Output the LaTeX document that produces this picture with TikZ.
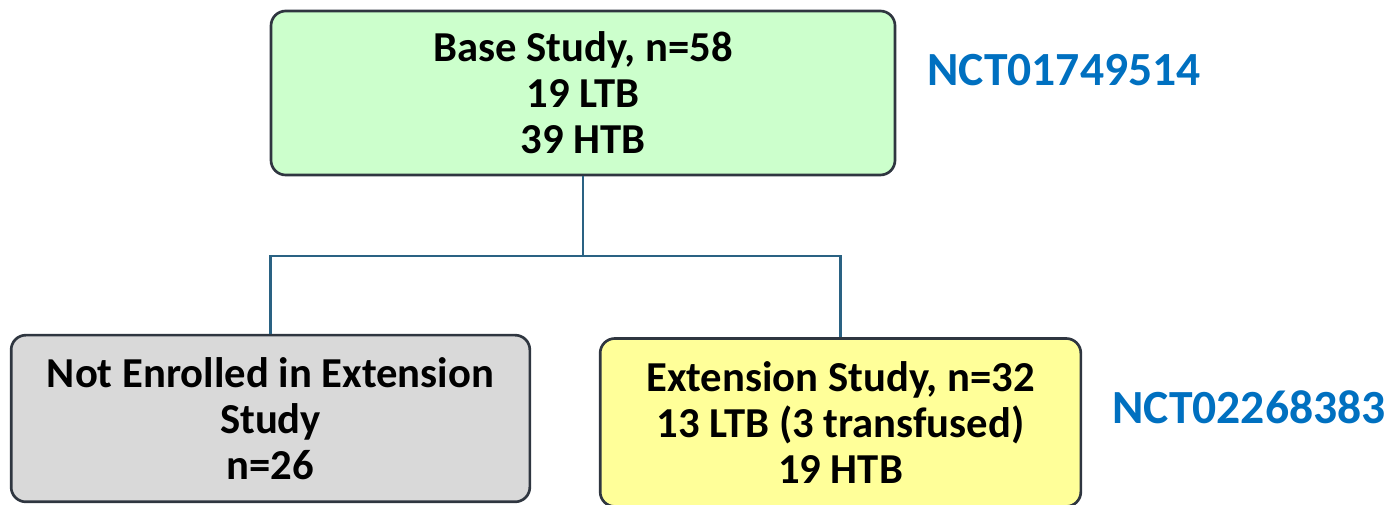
\documentclass[tikz,border=0pt]{standalone}
\usepackage{fontspec}
\setmainfont{Carlito}
\definecolor{boxline}{HTML}{2F3640}
\definecolor{linkline}{HTML}{2A6283}
\definecolor{idblue}{HTML}{0070C0}
\definecolor{basefill}{HTML}{CCFFCC}
\definecolor{outfill}{HTML}{D9D9D9}
\definecolor{extfill}{HTML}{FFFF99}
\tikzset{
  studybox/.style={draw=boxline, line width=2pt, rounded corners=11pt,
    align=center, inner sep=0pt, font=\fontsize{32}{34.5}\selectfont\bfseries},
  studyid/.style={text=idblue, inner sep=0pt, font=\fontsize{35.7}{40}\selectfont\bfseries},
  link/.style={draw=linkline, line width=1.6pt}
}
\begin{document}
\begin{tikzpicture}[x=0.75pt, y=-0.75pt]
\useasboundingbox (0,0) rectangle (1386,505);
\node[studybox, fill=basefill, minimum width=468pt, minimum height=123pt] (base) at (583,93)
  {Base Study, n=58\\19 LTB\\39 HTB};
\node[studybox, fill=outfill, minimum width=389pt, minimum height=125pt] (out) at (270.5,418.5)
  {Not Enrolled in Extension\\Study\\n=26};
\node[studybox, fill=extfill, minimum width=360.5pt, minimum height=126pt] (ext) at (840.5,422.5)
  {Extension Study, n=32\\13 LTB (3 transfused)\\19 HTB};
\node[studyid] (id1) at (1064,70) {NCT01749514};
\node[studyid] (id2) at (1249,407) {NCT02268383};
\coordinate (split) at (583,256);
\draw[link] (base.south) -- (split) -| (out.north);
\draw[link] (split) -| (ext.north);
\end{tikzpicture}
\end{document}
